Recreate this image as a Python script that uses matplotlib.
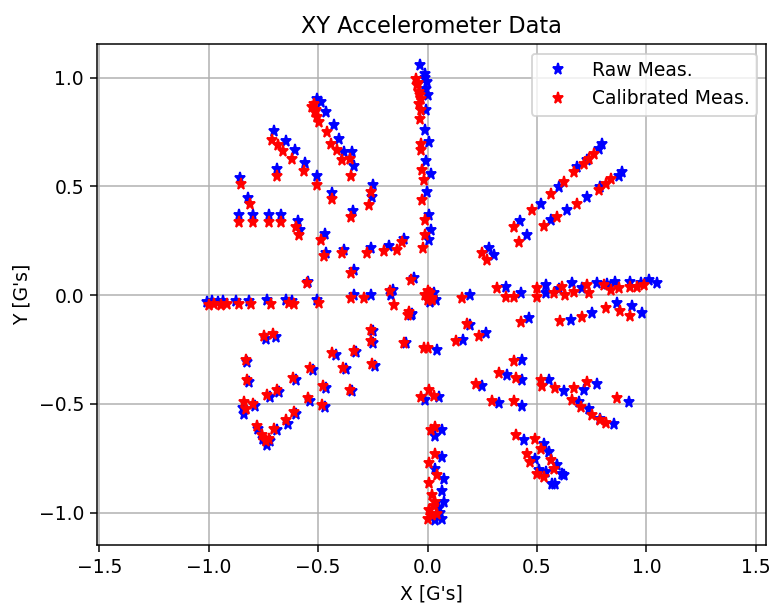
import numpy as np
import matplotlib
matplotlib.use("Agg")
import matplotlib.pyplot as plt

# raw accelerometer readings (G's), grouped by sweep
raw_top = [(-0.037, 1.057), (-0.012, 1.019), (-0.002, 0.981), (-0.006, 0.950), (0.003, 0.920),
           (-0.006, 0.851), (-0.012, 0.759), (0.006, 0.705), (-0.006, 0.616), (0.014, 0.559),
           (-0.002, 0.475), (0.006, 0.368), (0.014, 0.299), (0.006, 0.253), (-0.010, 1.000)]
raw_upper_left = [(-0.507, 0.904), (-0.486, 0.889), (-0.466, 0.843), (-0.428, 0.782), (-0.405, 0.716),
                  (-0.382, 0.659), (-0.344, 0.659), (-0.336, 0.593), (-0.248, 0.506), (-0.253, 0.452),
                  (-0.702, 0.753), (-0.648, 0.709), (-0.607, 0.667), (-0.562, 0.608), (-0.504, 0.547),
                  (-0.435, 0.470), (-0.339, 0.386), (-0.686, 0.578), (-0.857, 0.541), (-0.821, 0.449),
                  (-0.862, 0.368), (-0.796, 0.368), (-0.727, 0.368), (-0.668, 0.368), (-0.590, 0.340),
                  (-0.583, 0.299), (-0.470, 0.280), (-0.466, 0.192), (-0.382, 0.210), (-0.260, 0.219),
                  (-0.177, 0.225), (-0.108, 0.256), (-0.336, 0.115), (-0.545, 0.060), (-0.063, 0.077),
                  (-0.160, 0.025)]
raw_left = [(-1.010, -0.030), (-0.985, -0.025), (-0.960, -0.030), (-0.935, -0.025), (-0.875, -0.025),
            (-0.815, -0.025), (-0.735, -0.020), (-0.645, -0.020), (-0.620, -0.025), (-0.505, -0.020),
            (-0.336, 0.000), (-0.260, 0.000), (-0.169, 0.000)]
raw_center = [(0.000, 0.000), (0.020, -0.010), (0.030, 0.010), (0.010, -0.030), (0.040, -0.020),
              (0.193, 0.000), (-0.070, -0.085), (-0.078, -0.092), (-0.100, -0.220), (0.050, -0.470),
              (-0.010, -0.480)]
raw_right = [(0.356, 0.038), (0.425, 0.012), (0.539, 0.046), (0.539, 0.008), (0.661, 0.054),
             (0.706, 0.034), (0.775, 0.054), (0.858, 0.061), (0.927, 0.061), (0.973, 0.054),
             (1.010, 0.069), (1.049, 0.054), (0.600, 0.030), (0.820, 0.050)]
raw_upper_right = [(0.797, 0.697), (0.782, 0.670), (0.729, 0.621), (0.683, 0.587), (0.600, 0.498),
                   (0.516, 0.421), (0.422, 0.342), (0.455, 0.276), (0.280, 0.215), (0.303, 0.184),
                   (0.889, 0.567), (0.874, 0.547), (0.790, 0.498), (0.729, 0.452), (0.638, 0.391),
                   (0.562, 0.345)]
raw_lower_right = [(0.866, -0.038), (0.935, -0.051), (0.980, -0.084), (0.752, -0.084), (0.653, -0.112),
                   (0.463, -0.107), (0.196, -0.138), (0.265, -0.176), (0.163, -0.207), (0.044, -0.253),
                   (0.432, -0.299), (0.361, -0.368), (0.432, -0.391), (0.250, -0.418), (0.326, -0.495),
                   (0.432, -0.510), (0.554, -0.391), (0.623, -0.440), (0.714, -0.434), (0.775, -0.409),
                   (0.919, -0.490), (0.691, -0.490), (0.737, -0.521), (0.790, -0.567), (0.851, -0.593),
                   (0.440, -0.667), (0.531, -0.682), (0.554, -0.719), (0.493, -0.751), (0.508, -0.805),
                   (0.539, -0.812), (0.569, -0.866), (0.592, -0.782), (0.615, -0.820), (0.584, -0.869),
                   (0.623, -0.828)]
raw_bottom = [(0.033, -0.648), (0.067, -0.618), (0.067, -0.746), (0.036, -0.797), (0.075, -0.843),
              (0.067, -0.900), (0.075, -0.950), (0.036, -1.034), (0.067, -1.027), (0.050, -0.980),
              (0.055, -1.000)]
raw_lower_left = [(-0.740, -0.200), (-0.695, -0.190), (-0.825, -0.305), (-0.815, -0.400), (-0.845, -0.520),
                  (-0.790, -0.510), (-0.839, -0.544), (-0.720, -0.470), (-0.680, -0.445), (-0.600, -0.390),
                  (-0.525, -0.345), (-0.420, -0.275), (-0.325, -0.262), (-0.250, -0.165), (-0.250, -0.220),
                  (-0.375, -0.340), (-0.240, -0.325), (-0.466, -0.428), (-0.345, -0.440),
                  (-0.537, -0.485), (-0.470, -0.515), (-0.600, -0.545), (-0.640, -0.590), (-0.775, -0.615),
                  (-0.750, -0.660), (-0.720, -0.670), (-0.690, -0.620), (-0.735, -0.690)]

# calibrated readings (G's)
cal_top = [(-0.055, 0.996), (-0.047, 0.966), (-0.040, 0.935), (-0.032, 0.904), (-0.040, 0.881),
           (-0.037, 0.812), (-0.032, 0.697), (-0.032, 0.667), (-0.027, 0.575), (-0.017, 0.529),
           (-0.027, 0.437), (-0.012, 0.345), (-0.012, 0.276), (-0.021, 0.215), (-0.045, 0.975),
           (-0.035, 0.920), (-0.030, 0.850)]
cal_upper_left = [(-0.527, 0.866), (-0.516, 0.843), (-0.504, 0.820), (-0.496, 0.797), (-0.461, 0.751),
                  (-0.443, 0.697), (-0.412, 0.667), (-0.390, 0.621), (-0.355, 0.628), (-0.352, 0.547),
                  (-0.260, 0.475), (-0.268, 0.414), (-0.520, 0.880), (-0.510, 0.850),
                  (-0.709, 0.713), (-0.683, 0.690), (-0.659, 0.664), (-0.618, 0.628), (-0.565, 0.572),
                  (-0.507, 0.506), (-0.435, 0.440), (-0.352, 0.360), (-0.689, 0.547), (-0.851, 0.510),
                  (-0.811, 0.418), (-0.862, 0.337), (-0.796, 0.337), (-0.727, 0.337), (-0.668, 0.337),
                  (-0.600, 0.315), (-0.587, 0.276), (-0.489, 0.253), (-0.473, 0.179), (-0.390, 0.195),
                  (-0.275, 0.195), (-0.200, 0.204), (-0.116, 0.245), (-0.138, 0.207), (-0.348, 0.100),
                  (-0.549, 0.054), (-0.078, 0.072), (-0.172, 0.020)]
cal_left = [(-0.999, -0.045), (-0.976, -0.040), (-0.945, -0.045), (-0.915, -0.040), (-0.862, -0.040),
            (-0.808, -0.040), (-0.717, -0.040), (-0.633, -0.035), (-0.610, -0.040), (-0.496, -0.035),
            (-0.352, -0.015), (-0.290, -0.015), (-0.155, -0.046)]
cal_center = [(-0.010, 0.000), (0.000, -0.020), (0.010, 0.010), (0.020, -0.020), (0.020, -0.015),
              (0.158, -0.015), (-0.085, -0.078), (0.000, 0.020), (-0.090, -0.090), (-0.108, -0.219),
              (-0.017, -0.245), (0.006, -0.434), (-0.030, -0.470), (0.030, -0.465)]
cal_right = [(0.318, 0.031), (0.356, -0.008), (0.394, -0.008), (0.498, 0.031), (0.498, -0.008),
             (0.577, 0.008), (0.615, 0.038), (0.630, 0.003), (0.668, 0.015), (0.729, 0.046),
             (0.737, 0.008), (0.805, 0.046), (0.836, 0.023), (0.874, 0.031), (0.927, 0.038),
             (0.958, 0.038), (0.988, 0.046)]
cal_upper_right = [(0.760, 0.651), (0.737, 0.628), (0.714, 0.605), (0.668, 0.567), (0.623, 0.521),
                   (0.562, 0.464), (0.478, 0.391), (0.394, 0.314), (0.417, 0.245), (0.250, 0.192),
                   (0.273, 0.161), (0.836, 0.536), (0.813, 0.513), (0.782, 0.483), (0.683, 0.421),
                   (0.592, 0.360), (0.531, 0.317)]
cal_lower_right = [(0.813, -0.057), (0.881, -0.072), (0.927, -0.097), (0.706, -0.100), (0.607, -0.118),
                   (0.425, -0.123), (0.181, -0.133), (0.234, -0.189), (0.128, -0.210), (0.000, -0.245),
                   (0.394, -0.302), (0.326, -0.360), (0.402, -0.383), (0.219, -0.409), (0.295, -0.486),
                   (0.394, -0.486), (0.516, -0.388), (0.524, -0.418), (0.584, -0.429), (0.668, -0.429),
                   (0.729, -0.399), (0.866, -0.475), (0.661, -0.483), (0.699, -0.513), (0.752, -0.552),
                   (0.790, -0.575), (0.813, -0.587), (0.402, -0.644), (0.493, -0.659), (0.516, -0.705),
                   (0.455, -0.728), (0.470, -0.766), (0.501, -0.820), (0.531, -0.835), (0.562, -0.759),
                   (0.577, -0.797)]
cal_bottom = [(0.014, -0.618), (0.036, -0.607), (0.033, -0.731), (0.006, -0.771), (0.044, -0.828),
              (0.006, -0.863), (0.021, -0.920), (0.036, -0.950), (0.006, -0.989), (0.044, -1.004),
              (0.000, -1.027), (0.030, -0.970), (0.020, -1.010)]
cal_lower_left = [(-0.747, -0.189), (-0.705, -0.179), (-0.831, -0.296), (-0.823, -0.391), (-0.839, -0.490),
                  (-0.800, -0.498), (-0.831, -0.521), (-0.732, -0.460), (-0.689, -0.434), (-0.613, -0.383),
                  (-0.537, -0.337), (-0.435, -0.268), (-0.336, -0.256), (-0.260, -0.158), (-0.260, -0.210),
                  (-0.385, -0.333), (-0.253, -0.317), (-0.476, -0.418), (-0.355, -0.434),
                  (-0.547, -0.475), (-0.481, -0.506), (-0.610, -0.536), (-0.648, -0.575), (-0.778, -0.602),
                  (-0.755, -0.644), (-0.725, -0.659), (-0.702, -0.613), (-0.740, -0.670)]

raw = np.array(raw_top + raw_upper_left + raw_left + raw_center + raw_right
               + raw_upper_right + raw_lower_right + raw_bottom + raw_lower_left)
cal = np.array(cal_top + cal_upper_left + cal_left + cal_center + cal_right
               + cal_upper_right + cal_lower_right + cal_bottom + cal_lower_left)

DPI = 135
fig = plt.figure(figsize=(771 / DPI, 605 / DPI), dpi=DPI)
ax = fig.add_axes([0.126, 0.099, 0.868, 0.828])

ax.plot(raw[:, 0], raw[:, 1], 'b*', label='Raw Meas.')
ax.plot(cal[:, 0], cal[:, 1], 'r*', label='Calibrated Meas.')

ax.set_xlim(-1.51, 1.548)
ax.set_ylim(-1.149, 1.154)
ax.set_title('XY Accelerometer Data')
ax.set_xlabel("X [G's]")
ax.set_ylabel("Y [G's]")
ax.grid(True)
ax.legend(loc='upper right')

fig.savefig('out.png', dpi=DPI)
